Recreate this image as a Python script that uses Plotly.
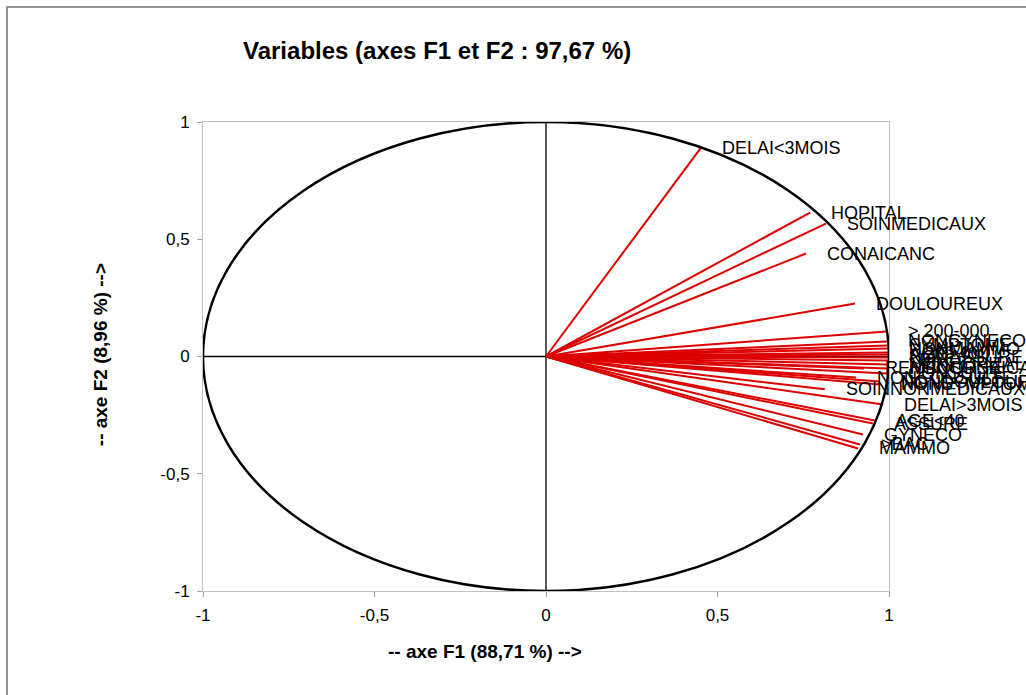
import plotly.graph_objects as go

# Variables (correlation circle coordinates on F1, F2)
names = ["DELAI<3MOIS", "HOPITAL", "SOINMEDICAUX", "CONAICANC", "DOULOUREUX",
         "> 200-000", "NONGYNECO", "SYMPTOME", "NONMAMMO", "< 200-000", "AGE>40",
         "NONASSURE", "<BAC", "NONHOPITAL", "NONCONAICANC", "REMBOURSE", "CONSULTE",
         "NONCONSULTE", "NONDOULOUREUX", "NONSYMPTOME", "SOINNONMEDICAUX",
         "DELAI>3MOIS", "AGE<40", "ASSURE", "GYNECO", ">BAC", "MAMMO"]
f1 = [0.452, 0.770, 0.816, 0.758, 0.901,
      0.994, 0.995, 0.996, 0.997, 0.997, 0.998,
      0.998, 0.998, 0.997, 0.996, 0.927, 0.994,
      0.904, 0.974, 0.974, 0.813,
      0.983, 0.959, 0.953, 0.924, 0.915, 0.910]
f2 = [0.891, 0.614, 0.567, 0.439, 0.226,
      0.107, 0.064, 0.047, 0.034, 0.017, 0.009,
      -0.004, -0.017, -0.034, -0.051, -0.051, -0.072,
      -0.090, -0.107, -0.119, -0.140,
      -0.205, -0.273, -0.286, -0.333, -0.375, -0.392]

tick_vals = [-1, -0.5, 0, 0.5, 1]
tick_text = ["-1", "-0,5", "0", "0,5", "1"]

FONT = "Liberation Sans, Arial, sans-serif"

xs, ys = [], []
for a, b in zip(f1, f2):
    xs += [0, a, None]
    ys += [0, b, None]

fig = go.Figure()
fig.add_trace(go.Scatter(x=xs, y=ys, mode="lines",
                         line=dict(color="#dd0000", width=2),
                         hoverinfo="skip", showlegend=False))

annotations = []
for n, a, b in zip(names, f1, f2):
    annotations.append(dict(x=a, y=b, xref="x", yref="y", text=n, showarrow=False,
                            xanchor="left", yanchor="middle", xshift=19,
                            font=dict(family=FONT, size=18, color="black")))

annotations += [
    dict(x=0.341, y=1.153, xref="paper", yref="paper", showarrow=False,
         xanchor="center", yanchor="middle",
         text="<b>Variables (axes F1 et F2 : 97,67 %)</b>",
         font=dict(family=FONT, size=24, color="black")),
    dict(x=0.411, y=-0.128, xref="paper", yref="paper", showarrow=False,
         xanchor="center", yanchor="middle",
         text="<b>-- axe F1 (88,71 %) --></b>",
         font=dict(family=FONT, size=19, color="black")),
    dict(x=-0.150, y=0.503, xref="paper", yref="paper", showarrow=False,
         xanchor="center", yanchor="middle",
         text="<b>-- axe F2 (8,96 %) --></b>", textangle=-90,
         font=dict(family=FONT, size=19, color="black")),
]

shapes = [
    dict(type="circle", xref="x", yref="y", x0=-1, y0=-1, x1=1, y1=1,
         line=dict(color="black", width=2.5), layer="above"),
    dict(type="line", xref="x", yref="y", x0=0, x1=0, y0=-1, y1=1,
         line=dict(color="black", width=1.3), layer="below"),
    dict(type="line", xref="x", yref="y", x0=-1, x1=1, y0=0, y1=0,
         line=dict(color="black", width=1.3), layer="below"),
    dict(type="rect", xref="paper", yref="paper", x0=-0.2857, x1=1.35,
         y0=-0.25, y1=1.245, line=dict(color="#707070", width=1.5)),
]

axis_common = dict(range=[-1, 1], tickvals=tick_vals, ticktext=tick_text,
                   showgrid=False, zeroline=False, showline=True, mirror=True,
                   linecolor="#c0c0c0", linewidth=1, ticks="outside", ticklen=5,
                   tickcolor="#a0a0a0", ticklabelstandoff=4,
                   tickfont=dict(family=FONT, size=17, color="black"))

fig.update_layout(
    width=1026, height=695,
    margin=dict(l=203, r=137, t=122, b=104),
    paper_bgcolor="white", plot_bgcolor="white",
    xaxis=dict(**axis_common),
    yaxis=dict(**axis_common),
    annotations=annotations,
    shapes=shapes,
    showlegend=False,
)

fig.write_html("out.html",
               config={"displayModeBar": False},
               post_script="document.body.style.margin='0px';document.body.style.overflow='hidden';")
